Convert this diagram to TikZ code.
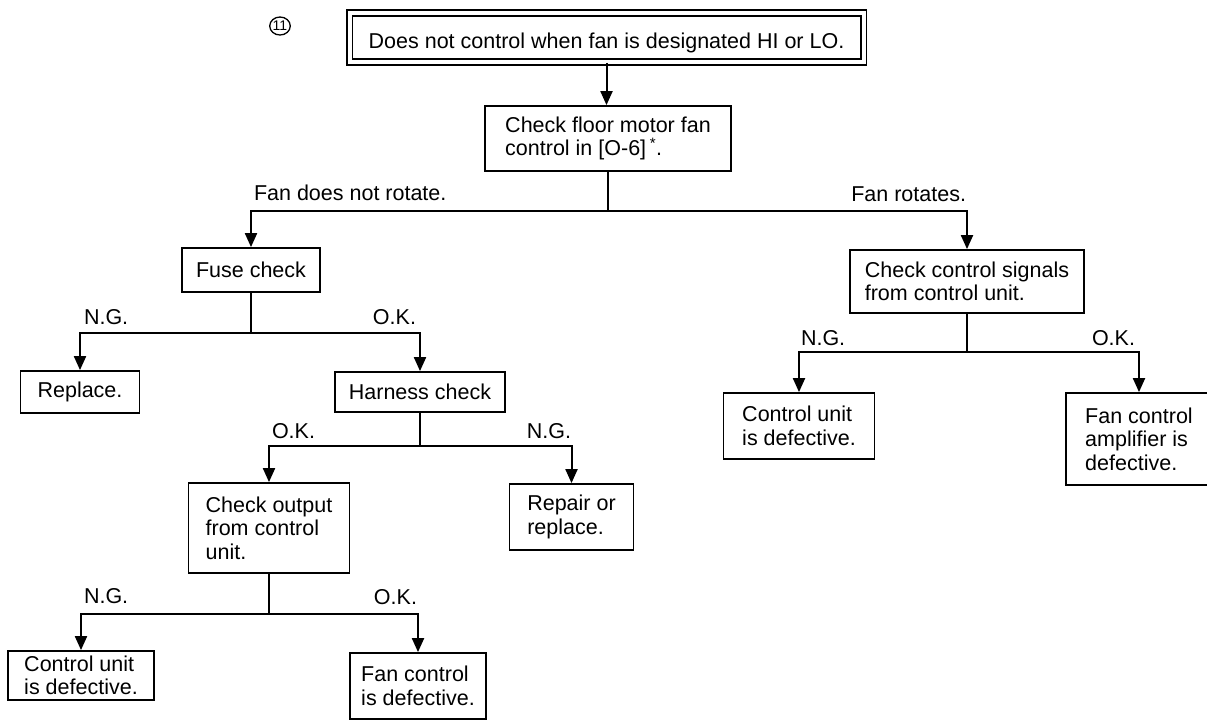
\documentclass[tikz,border=0pt]{standalone}
\usepackage{fontspec}
\setmainfont{Liberation Sans}
\usetikzlibrary{arrows.meta,shapes.geometric}
\begin{document}
\begin{tikzpicture}[x=1pt,y=-1pt,
  font=\fontsize{21.5}{23.5}\selectfont,
  line width=2pt,
  box/.style={draw, align=left, inner sep=0pt, line width=1.8pt},
  arr/.style={-{Triangle[width=12pt,length=14pt]}},
  lbl/.style={inner sep=0pt}]
\useasboundingbox (0,0) rectangle (1207,721);
\fill[white] (0,0) rectangle (1207,721);
\clip (0,0) rectangle (1207,721);

% junction levels
\coordinate (h1) at (0,211);
\coordinate (h2) at (0,333);
\coordinate (h3) at (0,446);
\coordinate (h4) at (0,614);
\coordinate (h5) at (0,352);

% nodes
\node[ellipse, draw, line width=1.3pt, minimum width=16pt, minimum height=18pt, inner sep=0pt,
      font=\fontsize{14}{14}\selectfont] (num) at (280,26) {11};
\node[box, double, double distance=4pt, line width=1.6pt,
      minimum width=514pt, minimum height=49pt, align=center,
      text height=22pt, text depth=0pt] (top) at (606.5,37.5)
      {Does not control when fan is designated HI or LO.};
\node[box, minimum width=246pt, minimum height=65pt] (floor) at (608,138.5)
      {Check floor motor fan\\control in [O-6]\,\textsuperscript{*}.};
\node[box, minimum width=138pt, minimum height=44pt] (fuse) at (251,270) {Fuse check};
\node[box, minimum width=234pt, minimum height=63pt] (signals) at (967,281.5)
      {Check control signals\\from control unit.};
\node[box, minimum width=119pt, minimum height=42pt] (replace) at (80,392) {Replace.};
\node[box, minimum width=170pt, minimum height=40pt] (harness) at (420,392) {Harness check};
\node[box, minimum width=161pt, minimum height=90pt] (output) at (269,528)
      {Check output\\from control\\unit.};
\node[box, minimum width=124pt, minimum height=66pt] (repair) at (571.5,517)
      {Repair or\\replace.};
\node[box, minimum width=146pt, minimum height=49pt] (cu1) at (81,675.5)
      {Control unit\\is defective.};
\node[box, minimum width=136pt, minimum height=66pt] (fc) at (418,686)
      {Fan control\\is defective.};
\node[box, minimum width=151pt, minimum height=66pt] (cu2) at (799,426)
      {Control unit\\is defective.};
\node[box, minimum width=146pt, minimum height=92pt] (amp) at (1139,439)
      {Fan control\\amplifier is\\defective.};

% connectors
\draw[arr] (top.south) -- (top.south |- floor.north);
\draw (floor.south) -- (floor.south |- h1);
\draw[arr] (floor.south |- h1) -| (fuse.north);
\draw[arr] (floor.south |- h1) -| (signals.north);

\draw (fuse.south) -- (fuse.south |- h2);
\draw[arr] (fuse.south |- h2) -| (replace.north);
\draw[arr] (fuse.south |- h2) -| (harness.north);

\draw (harness.south) -- (harness.south |- h3);
\draw[arr] (harness.south |- h3) -| (output.north);
\draw[arr] (harness.south |- h3) -| (repair.north);

\draw (output.south) -- (output.south |- h4);
\draw[arr] (output.south |- h4) -| (cu1.north);
\draw[arr] (output.south |- h4) -| (fc.north);

\draw (signals.south) -- (signals.south |- h5);
\draw[arr] (signals.south |- h5) -| (cu2.north);
\draw[arr] (signals.south |- h5) -| (amp.north);

% labels
\node[lbl, anchor=west] (l1) at (253,193) {Fan does not rotate.};
\node[lbl, anchor=east] (l2) at (967,194) {Fan rotates.};
\node[lbl, anchor=west] (l3) at (83,317) {N.G.};
\node[lbl, anchor=east] (l4) at (417,317) {O.K.};
\node[lbl, anchor=west] (l5) at (271,431) {O.K.};
\node[lbl, anchor=east] (l6) at (572,431) {N.G.};
\node[lbl, anchor=west] (l7) at (83,596) {N.G.};
\node[lbl, anchor=east] (l8) at (418,597) {O.K.};
\node[lbl, anchor=west] (l9) at (800,338) {N.G.};
\node[lbl, anchor=east] (l10) at (1136,338) {O.K.};
\end{tikzpicture}
\end{document}
